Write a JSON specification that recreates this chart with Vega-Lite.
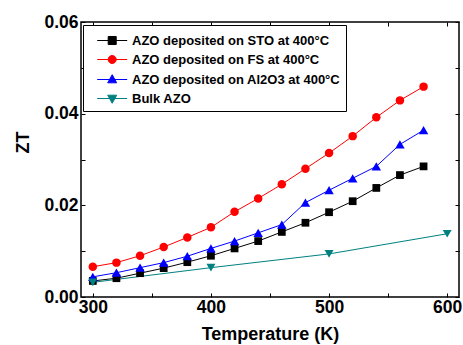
{
  "$schema": "https://vega.github.io/schema/vega-lite/v6.json",
  "width": 378,
  "height": 275,
  "autosize": {"type": "none"},
  "padding": {"left": 81, "top": 22, "right": 4, "bottom": 48},
  "background": "white",
  "config": {
    "view": {"stroke": "black", "strokeWidth": 1.5},
    "font": "Liberation Sans",
    "axis": {
      "domain": false,
      "grid": false,
      "tickColor": "black",
      "tickSize": -4,
      "tickWidth": 1,
      "labelFont": "Liberation Sans",
      "labelFontWeight": "bold",
      "labelFontSize": 17.5,
      "labelColor": "black",
      "titleFont": "Liberation Sans",
      "titleFontWeight": "bold",
      "titleFontSize": 18,
      "titleColor": "black"
    }
  },
  "data": {
    "values": [
      {"T": 300, "ZT": 0.0035, "series": "AZO deposited on STO at 400°C"},
      {"T": 320, "ZT": 0.0041, "series": "AZO deposited on STO at 400°C"},
      {"T": 340, "ZT": 0.0052, "series": "AZO deposited on STO at 400°C"},
      {"T": 360, "ZT": 0.0063, "series": "AZO deposited on STO at 400°C"},
      {"T": 380, "ZT": 0.0076, "series": "AZO deposited on STO at 400°C"},
      {"T": 400, "ZT": 0.0090, "series": "AZO deposited on STO at 400°C"},
      {"T": 420, "ZT": 0.0106, "series": "AZO deposited on STO at 400°C"},
      {"T": 440, "ZT": 0.0122, "series": "AZO deposited on STO at 400°C"},
      {"T": 460, "ZT": 0.0142, "series": "AZO deposited on STO at 400°C"},
      {"T": 480, "ZT": 0.0162, "series": "AZO deposited on STO at 400°C"},
      {"T": 500, "ZT": 0.0185, "series": "AZO deposited on STO at 400°C"},
      {"T": 520, "ZT": 0.0209, "series": "AZO deposited on STO at 400°C"},
      {"T": 540, "ZT": 0.0238, "series": "AZO deposited on STO at 400°C"},
      {"T": 560, "ZT": 0.0266, "series": "AZO deposited on STO at 400°C"},
      {"T": 580, "ZT": 0.0285, "series": "AZO deposited on STO at 400°C"},
      {"T": 300, "ZT": 0.0066, "series": "AZO deposited on FS at 400°C"},
      {"T": 320, "ZT": 0.0075, "series": "AZO deposited on FS at 400°C"},
      {"T": 340, "ZT": 0.0090, "series": "AZO deposited on FS at 400°C"},
      {"T": 360, "ZT": 0.0109, "series": "AZO deposited on FS at 400°C"},
      {"T": 380, "ZT": 0.0130, "series": "AZO deposited on FS at 400°C"},
      {"T": 400, "ZT": 0.0152, "series": "AZO deposited on FS at 400°C"},
      {"T": 420, "ZT": 0.0186, "series": "AZO deposited on FS at 400°C"},
      {"T": 440, "ZT": 0.0215, "series": "AZO deposited on FS at 400°C"},
      {"T": 460, "ZT": 0.0246, "series": "AZO deposited on FS at 400°C"},
      {"T": 480, "ZT": 0.0280, "series": "AZO deposited on FS at 400°C"},
      {"T": 500, "ZT": 0.0314, "series": "AZO deposited on FS at 400°C"},
      {"T": 520, "ZT": 0.0351, "series": "AZO deposited on FS at 400°C"},
      {"T": 540, "ZT": 0.0392, "series": "AZO deposited on FS at 400°C"},
      {"T": 560, "ZT": 0.0429, "series": "AZO deposited on FS at 400°C"},
      {"T": 580, "ZT": 0.0459, "series": "AZO deposited on FS at 400°C"},
      {"T": 300, "ZT": 0.0044, "series": "AZO deposited on Al2O3 at 400°C"},
      {"T": 320, "ZT": 0.0053, "series": "AZO deposited on Al2O3 at 400°C"},
      {"T": 340, "ZT": 0.0064, "series": "AZO deposited on Al2O3 at 400°C"},
      {"T": 360, "ZT": 0.0075, "series": "AZO deposited on Al2O3 at 400°C"},
      {"T": 380, "ZT": 0.0089, "series": "AZO deposited on Al2O3 at 400°C"},
      {"T": 400, "ZT": 0.0106, "series": "AZO deposited on Al2O3 at 400°C"},
      {"T": 420, "ZT": 0.0122, "series": "AZO deposited on Al2O3 at 400°C"},
      {"T": 440, "ZT": 0.0140, "series": "AZO deposited on Al2O3 at 400°C"},
      {"T": 460, "ZT": 0.0158, "series": "AZO deposited on Al2O3 at 400°C"},
      {"T": 480, "ZT": 0.0206, "series": "AZO deposited on Al2O3 at 400°C"},
      {"T": 500, "ZT": 0.0233, "series": "AZO deposited on Al2O3 at 400°C"},
      {"T": 520, "ZT": 0.0259, "series": "AZO deposited on Al2O3 at 400°C"},
      {"T": 540, "ZT": 0.0285, "series": "AZO deposited on Al2O3 at 400°C"},
      {"T": 560, "ZT": 0.0333, "series": "AZO deposited on Al2O3 at 400°C"},
      {"T": 580, "ZT": 0.0364, "series": "AZO deposited on Al2O3 at 400°C"},
      {"T": 300, "ZT": 0.0032, "series": "Bulk AZO"},
      {"T": 400, "ZT": 0.0064, "series": "Bulk AZO"},
      {"T": 500, "ZT": 0.0094, "series": "Bulk AZO"},
      {"T": 600, "ZT": 0.0138, "series": "Bulk AZO"}
    ]
  },
  "encoding": {
    "x": {"field": "T", "type": "quantitative", "scale": {"domain": [290, 610], "nice": false, "zero": false}},
    "y": {"field": "ZT", "type": "quantitative", "scale": {"domain": [0, 0.06], "nice": false}},
    "color": {
      "field": "series", "type": "nominal",
      "scale": {
        "domain": ["AZO deposited on STO at 400°C", "AZO deposited on FS at 400°C", "AZO deposited on Al2O3 at 400°C", "Bulk AZO"],
        "range": ["#000000", "#ff0000", "#0000ff", "#008080"]
      },
      "legend": {
        "orient": "none", "legendX": 2, "legendY": 3,
        "title": " ", "titleFontSize": 4, "titlePadding": 0,
        "strokeColor": "black", "fillColor": "white",
        "padding": 5,
        "symbolSize": 144,
        "symbolStrokeWidth": 1,
        "labelFont": "Liberation Sans", "labelFontSize": 13, "labelFontWeight": "bold", "labelColor": "black",
        "labelOffset": 31, "labelLimit": 400,
        "rowPadding": 5,
        "encode": {
          "symbols": {
            "update": {
              "shape": {"signal": "indexof(datum.value,'STO')>=0 ? 'M0.45,0H5.45M2.28,-0.67H3.62V0.67H2.28Z' : indexof(datum.value,'FS')>=0 ? 'M0.45,0H5.45M3.62,0A0.67,0.67,0,1,1,2.28,0A0.67,0.67,0,1,1,3.62,0Z' : indexof(datum.value,'Al2O3')>=0 ? 'M0.45,0H5.45M2.95,-0.8L3.7,0.55H2.2Z' : 'M0.45,0H5.45M2.2,-0.55H3.7L2.95,0.8Z'"},
              "stroke": {"signal": "scale('color', datum.value)"},
              "fill": {"signal": "scale('color', datum.value)"},
              "opacity": {"value": 1}
            }
          }
        }
      }
    }
  },
  "layer": [
    {
      "mark": {"type": "line", "strokeWidth": 1},
      "encoding": {
        "x": {
          "field": "T", "type": "quantitative",
          "axis": {
            "orient": "bottom", "title": "Temperature (K)",
            "values": [300, 350, 400, 450, 500, 550, 600],
            "labelExpr": "datum.value % 100 == 0 ? datum.label : ''",
            "labelPadding": 5, "titlePadding": 10
          }
        },
        "y": {
          "field": "ZT", "type": "quantitative",
          "axis": {
            "orient": "left", "title": "ZT",
            "values": [0, 0.01, 0.02, 0.03, 0.04, 0.05, 0.06],
            "format": ".2f",
            "labelExpr": "round(datum.value * 100) % 2 == 0 ? datum.label : ''",
            "labelPadding": 7,
            "titleX": -58, "titleY": 120, "titleBaseline": "middle"
          }
        }
      }
    },
    {
      "transform": [{"filter": "datum.series === 'AZO deposited on STO at 400°C'"}],
      "mark": {"type": "point", "filled": true, "opacity": 1, "shape": "square", "size": 60},
      "encoding": {
        "x": {"field": "T", "type": "quantitative", "axis": null},
        "y": {"field": "ZT", "type": "quantitative", "axis": null}
      }
    },
    {
      "transform": [{"filter": "datum.series === 'AZO deposited on FS at 400°C'"}],
      "mark": {"type": "point", "filled": true, "opacity": 1, "shape": "circle", "size": 72},
      "encoding": {
        "x": {"field": "T", "type": "quantitative", "axis": null},
        "y": {"field": "ZT", "type": "quantitative", "axis": null}
      }
    },
    {
      "transform": [{"filter": "datum.series === 'AZO deposited on Al2O3 at 400°C'"}],
      "mark": {"type": "point", "filled": true, "opacity": 1, "shape": "triangle-up", "size": 90},
      "encoding": {
        "x": {"field": "T", "type": "quantitative", "axis": null},
        "y": {"field": "ZT", "type": "quantitative", "axis": null}
      }
    },
    {
      "transform": [{"filter": "datum.series === 'Bulk AZO'"}],
      "mark": {"type": "point", "filled": true, "opacity": 1, "shape": "triangle-down", "size": 80},
      "encoding": {
        "x": {"field": "T", "type": "quantitative", "axis": null},
        "y": {"field": "ZT", "type": "quantitative", "axis": null}
      }
    },
    {
      "mark": {"type": "point", "opacity": 0},
      "encoding": {
        "color": {"value": "black"},
        "x": {
          "field": "T", "type": "quantitative",
          "axis": {"orient": "top", "title": null, "labels": false, "values": [300, 350, 400, 450, 500, 550, 600]}
        },
        "y": {
          "field": "ZT", "type": "quantitative",
          "axis": {"orient": "right", "title": null, "labels": false, "values": [0, 0.01, 0.02, 0.03, 0.04, 0.05, 0.06]}
        }
      }
    }
  ],
  "resolve": {"axis": {"x": "independent", "y": "independent"}}
}
